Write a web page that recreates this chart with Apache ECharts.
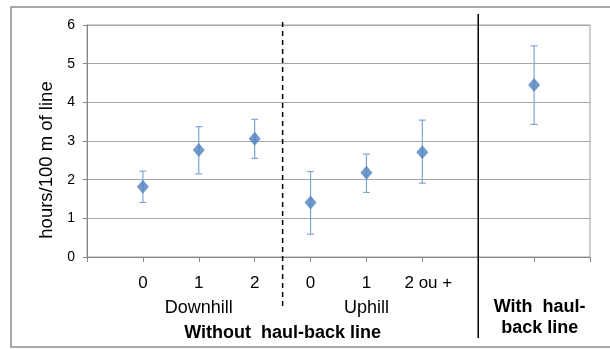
<!DOCTYPE html>
<html><head><meta charset="utf-8">
<script src="https://cdn.jsdelivr.net/npm/echarts@6/dist/echarts.min.js"></script>
<style>html,body{margin:0;padding:0;background:#fff}#c{width:610px;height:349px}</style>
</head><body><div id="c"></div>
<script>
// Data
const xPositions = [1, 2, 3, 4, 5, 6, 8];
const tickLabels = {1: '0', 2: '1', 3: '2', 4: '0', 5: '1', 6: '{r|2 ou +}'};
const means = [1.82, 2.77, 3.06, 1.41, 2.18, 2.71, 4.45];
const lows  = [1.41, 2.15, 2.55, 0.59, 1.67, 1.91, 3.43];
const highs = [2.22, 3.37, 3.56, 2.21, 2.66, 3.54, 5.46];
const yAxisTitle = 'hours/100 m of line';
const groupLabels = [
  {text: 'Downhill', x: 2, bold: false, dy: 51},
  {text: 'Uphill', x: 5, bold: false, dy: 51},
  {text: 'Without  haul-back line', x: 3.5, bold: true, dy: 76},
  {text: 'With  haul-\nback line', x: 8.1, bold: true, dy: 61}
];
const dividers = [{x: 3.5, dashed: true}, {x: 7, dashed: false}];

const FONT = 'Liberation Sans, Arial, sans-serif';
const chart = echarts.init(document.getElementById('c'));
const option = {
  animation: false,
  grid: {left: 87, right: 20, top: 25, bottom: 92, show: true, borderColor: '#a0a0a0', borderWidth: 1},
  xAxis: {
    type: 'value', min: 0, max: 9, interval: 1,
    axisLine: {lineStyle: {color: '#868686'}},
    axisTick: {show: true, length: 5, lineStyle: {color: '#868686'}},
    splitLine: {show: false},
    axisLabel: {
      margin: 18, fontSize: 17, color: '#000', fontFamily: FONT,
      formatter: v => tickLabels[v] || '',
      rich: {r: {fontSize: 17, color: '#000', fontFamily: FONT, padding: [0, 0, 0, 12]}}
    }
  },
  yAxis: {
    type: 'value', min: 0, max: 6, interval: 1,
    axisLine: {show: true, lineStyle: {color: '#868686'}},
    axisTick: {show: true, length: 4, lineStyle: {color: '#868686'}},
    splitLine: {lineStyle: {color: '#a6a6a6'}},
    axisLabel: {fontSize: 14, color: '#000', fontFamily: FONT, margin: 12}
  },
  series: [
    {
      type: 'custom',
      data: xPositions.map((x, i) => [x, lows[i], highs[i]]),
      renderItem: (params, api) => {
        const lo = api.coord([api.value(0), api.value(1)]);
        const hi = api.coord([api.value(0), api.value(2)]);
        const w = 3.5;
        const st = {stroke: '#7fa6d6', lineWidth: 1.2};
        return {type: 'group', children: [
          {type: 'line', shape: {x1: lo[0], y1: lo[1], x2: hi[0], y2: hi[1]}, style: st},
          {type: 'line', shape: {x1: lo[0]-w, y1: lo[1], x2: lo[0]+w, y2: lo[1]}, style: st},
          {type: 'line', shape: {x1: hi[0]-w, y1: hi[1], x2: hi[0]+w, y2: hi[1]}, style: st}
        ]};
      },
      z: 2
    },
    {
      type: 'scatter',
      data: xPositions.map((x, i) => [x, means[i]]),
      symbol: 'diamond', symbolSize: [12, 14],
      itemStyle: {color: '#4f81bd'},
      z: 3
    },
    {
      type: 'custom', clip: false,
      data: dividers.map(d => [d.x, d.dashed ? 1 : 0]),
      renderItem: (params, api) => {
        const top = api.coord([api.value(0), 6]);
        const bot = api.coord([api.value(0), 0]);
        const dashed = api.value(1) === 1;
        return {type: 'line', shape: {
            x1: top[0], y1: top[1] - (dashed ? 3 : 11),
            x2: top[0], y2: bot[1] + (dashed ? 50 : 81)},
          style: {stroke: '#000', lineWidth: 1.5, lineDash: dashed ? [5, 4] : null}};
      },
      z: 4
    },
    {
      type: 'custom', clip: false,
      data: groupLabels.map(g => [g.x, 0]),
      renderItem: (params, api) => {
        const g = groupLabels[params.dataIndex];
        const p = api.coord([api.value(0), 0]);
        return {type: 'text', x: p[0], y: p[1] + g.dy,
          style: {text: g.text, align: 'center', verticalAlign: 'middle',
            font: (g.bold ? 'bold 18px ' : '18px ') + FONT, fill: '#000', lineHeight: 21}};
      }
    }
  ],
  graphic: [
    {type: 'rect', shape: {x: 11, y: 7, width: 620, height: 340},
     style: {fill: 'none', stroke: '#8c8c8c', lineWidth: 1.5}, silent: true},
    {type: 'text', x: 47, y: 160, rotation: Math.PI / 2,
     style: {text: yAxisTitle, align: 'center', verticalAlign: 'middle',
       font: '18.5px ' + FONT, fill: '#000'}, silent: true}
  ]
};
chart.setOption(option);
</script></body></html>
